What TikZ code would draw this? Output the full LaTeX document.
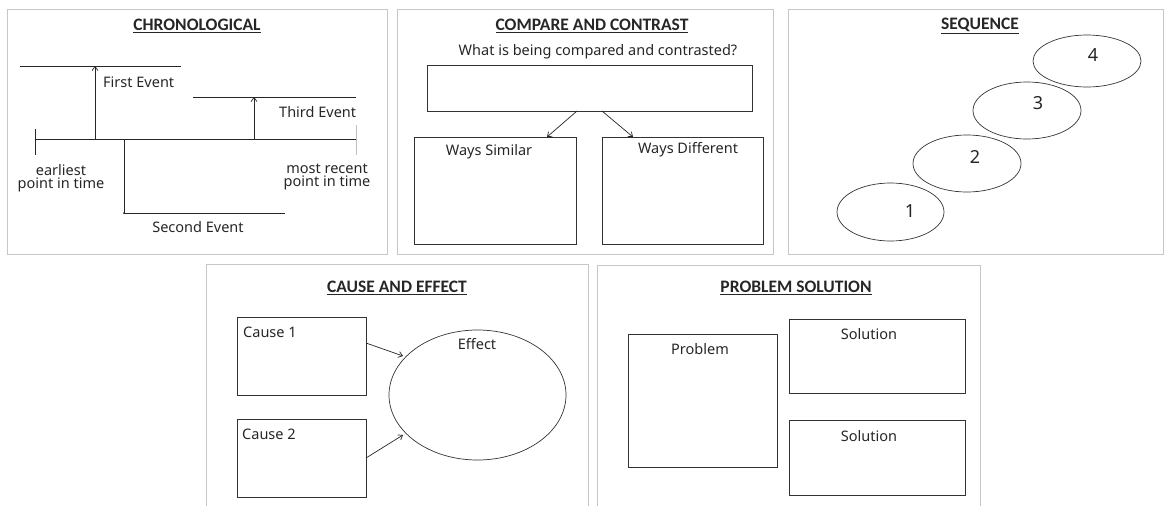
\documentclass[tikz,border=0pt]{standalone}
\usepackage{fontspec}
\setmainfont{Noto Sans}
\newfontfamily\titlefont{Carlito}
\usetikzlibrary{arrows.meta,shapes.geometric}
\begin{document}
\begin{tikzpicture}[x=1pt,y=-1pt,
  panel/.style={draw=black!22, line width=0.8pt},
  ln/.style={draw=black!85, line width=0.7pt},
  arr/.style={ln, -{Straight Barb[length=4pt,width=6pt]}},
  ttl/.style={font=\titlefont\bfseries\fontsize{17.5}{20}\selectfont, inner sep=0pt, text=black!85},
  lbl/.style={font=\fontsize{14.5}{13}\selectfont, inner sep=0pt, text=black!85},
  num/.style={font=\fontsize{18}{20}\selectfont, inner sep=0pt, text=black!85},
  boxn/.style={draw=black!80, line width=0.7pt, inner sep=0pt, outer sep=0pt},
  ell/.style={ellipse, draw=black!80, line width=0.7pt, inner sep=0pt, outer sep=0pt}]
\useasboundingbox (0,0) rectangle (1167,506);

% ---------- panels ----------
\draw[panel] (7,9) rectangle (387,254);
\draw[panel] (397,9) rectangle (773,254);
\draw[panel] (788,9) rectangle (1163,254);
\draw[panel] (206,506) -- (206,264) -- (588,264) -- (588,506);
\draw[panel] (597,506) -- (597,265) -- (980,265) -- (980,506);

% ---------- CHRONOLOGICAL ----------
\node[ttl] (t1) at (197,26) {\underline{CHRONOLOGICAL}};
\coordinate (tl) at (35,139);
\coordinate (tr) at (356,139);
\draw[ln] (tl) -- (tr);
\draw[ln] (35,129) -- (35,155);
\draw[draw=black!25, line width=0.7pt] (356,125) -- (356,155);
% first event
\coordinate (f0) at (95,139); \coordinate (f1) at (95,66);
\draw[arr] (f0) -- (f1);
\draw[ln] (20,66) -- (181,66);
\node[lbl, anchor=west] (fe) at (103,82) {First Event};
% third event
\coordinate (h0) at (254,139); \coordinate (h1) at (254,97);
\draw[arr] (h0) -- (h1);
\draw[ln] (193,97) -- (356,97);
\node[lbl, anchor=west] (te) at (279,112) {Third Event};
% second event
\coordinate (s0) at (124,139); \coordinate (s1) at (124,213); \coordinate (s2) at (285,213);
\draw[ln] (s0) -- (s1) -- (s2);
\fill[black!85] (s1) circle (1pt);
\node[lbl] (se) at (198,227) {Second Event};
\node[lbl, align=center] (ea) at (61,178) {earliest\\point in time};
\node[lbl, align=center] (mr) at (327,177) {most recent\\point in time};

% ---------- COMPARE AND CONTRAST ----------
\node[ttl] (t2) at (592,26) {\underline{COMPARE AND CONTRAST}};
\node[lbl] (q) at (598,52) {What is being compared and contrasted?};
\node[boxn, minimum width=325pt, minimum height=46pt] (top) at (589.5,88) {};
\node[boxn, minimum width=162pt, minimum height=107pt] (sim) at (495,190.5) {};
\node[boxn, minimum width=161pt, minimum height=107pt] (dif) at (682.5,190.5) {};
\coordinate (a1) at (577,111); \coordinate (b1) at (547,137);
\coordinate (a2) at (602,111); \coordinate (b2) at (633,137);
\draw[arr] (a1) -- (b1);
\draw[arr] (a2) -- (b2);
\node[lbl] (ws) at (489,152) {Ways Similar};
\node[lbl] (wd) at (688,150) {Ways Different};

% ---------- SEQUENCE ----------
\node[ttl] (t3) at (980,26) {\underline{SEQUENCE}};
\node[ell, minimum width=108pt, minimum height=52pt] (e4) at (1087,61) {};
\node[ell, minimum width=108pt, minimum height=57pt] (e3) at (1027,110.5) {};
\node[ell, minimum width=108pt, minimum height=57pt] (e2) at (967,163.5) {};
\node[ell, minimum width=107pt, minimum height=58pt] (e1) at (890.5,212) {};
\node[num] (n4) at (1093,55) {4};
\node[num] (n3) at (1038,103) {3};
\node[num] (n2) at (975,157) {2};
\node[num] (n1) at (910,211) {1};

% ---------- CAUSE AND EFFECT ----------
\node[ttl] (t4) at (397,288) {\underline{CAUSE AND EFFECT}};
\node[boxn, minimum width=129pt, minimum height=78pt] (c1) at (301.5,356) {};
\node[boxn, minimum width=129pt, minimum height=78pt] (c2) at (301.5,458) {};
\node[ell, minimum width=177pt, minimum height=130pt] (ef) at (477.5,395) {};
\coordinate (p1) at (366,343); \coordinate (q1) at (403,356);
\coordinate (p2) at (366,458); \coordinate (q2) at (403,435);
\draw[arr] (p1) -- (q1);
\draw[arr] (p2) -- (q2);
\node[lbl, anchor=west] (cl1) at (243,332) {Cause 1};
\node[lbl, anchor=west] (cl2) at (242,434) {Cause 2};
\node[lbl] (el) at (477,344) {Effect};

% ---------- PROBLEM SOLUTION ----------
\node[ttl] (t5) at (796,288) {\underline{PROBLEM SOLUTION}};
\node[boxn, minimum width=149pt, minimum height=133pt] (pb) at (702.5,400.5) {};
\node[boxn, minimum width=176pt, minimum height=74pt] (so1) at (877,356) {};
\node[boxn, minimum width=176pt, minimum height=75pt] (so2) at (877,457.5) {};
\node[lbl] (pl) at (700,349) {Problem};
\node[lbl] (sl1) at (869,334) {Solution};
\node[lbl] (sl2) at (869,436) {Solution};
\end{tikzpicture}
\end{document}
